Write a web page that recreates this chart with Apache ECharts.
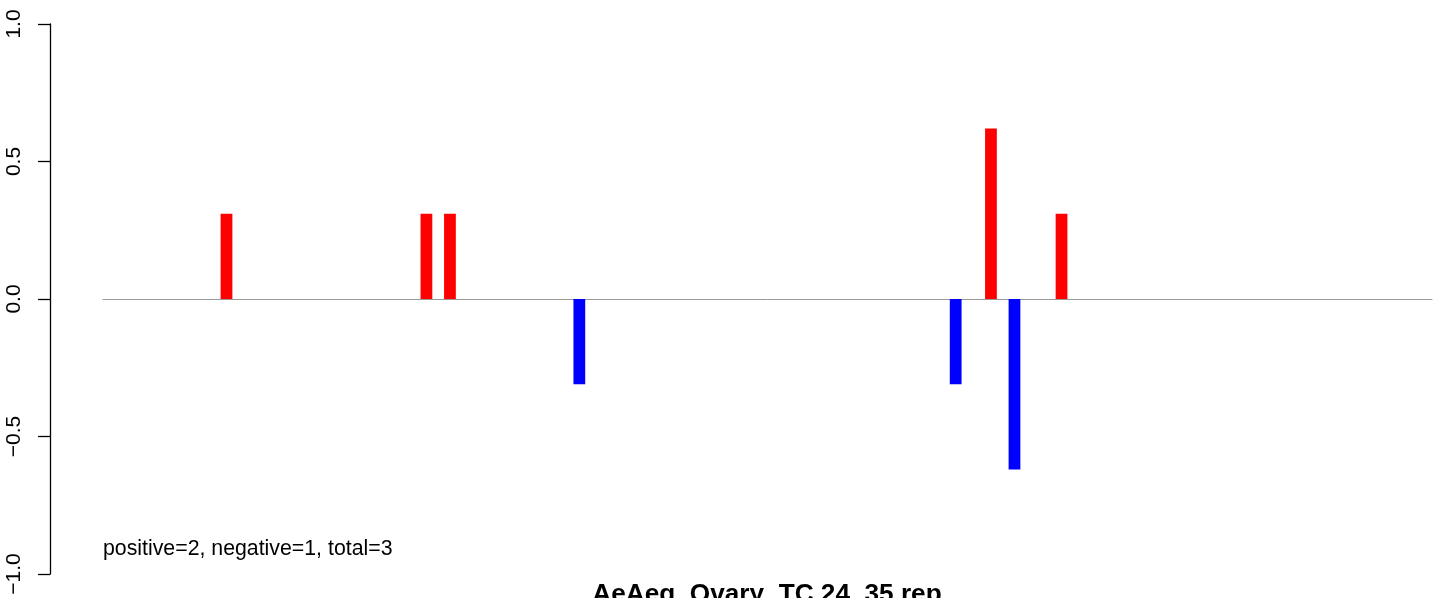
<!DOCTYPE html>
<html>
<head>
<meta charset="utf-8">
<script src="https://cdn.jsdelivr.net/npm/echarts@6/dist/echarts.min.js"></script>
<style>
html,body{margin:0;padding:0;background:#fff;}
#c{width:1444px;height:598px;}
</style>
</head>
<body>
<div id="c"></div>
<script>
// ---- data ----
var slotCount = 113;                       // number of bar slots along x
var barSlots  = [10, 27, 29, 40, 72, 75, 77, 81];
var barValues = [0.31, 0.31, 0.31, -0.31, -0.31, 0.62, -0.62, 0.31];
var yTicks = [-1, -0.5, 0, 0.5, 1];
var yTickLabels = ['\u22121.0', '\u22120.5', '0.0', '0.5', '1.0'];
var titleText = 'AeAeg_Ovary_TC.24_35.rep';
var noteText = 'positive=2, negative=1, total=3';

// ---- build ----
var categories = [];
var values = [];
for (var i = 0; i < slotCount; i++) { categories.push(String(i + 1)); values.push(null); }
for (var j = 0; j < barSlots.length; j++) { values[barSlots[j]] = barValues[j]; }

var chart = echarts.init(document.getElementById('c'), null, {renderer: 'canvas'});
var FONT = '"Liberation Sans", Arial, Helvetica, sans-serif';
chart.setOption({
  animation: false,
  backgroundColor: '#ffffff',
  grid: {left: 103, right: 12, top: 24, bottom: 24, containLabel: false},
  xAxis: {
    type: 'category',
    data: categories,
    axisLine: {show: true, onZero: true, lineStyle: {color: '#999999', width: 1}},
    axisTick: {show: false},
    axisLabel: {show: false},
    splitLine: {show: false}
  },
  yAxis: {
    type: 'value',
    min: -1, max: 1, interval: 0.5,
    position: 'left',
    offset: 53,
    axisLine: {show: true, lineStyle: {color: '#000000', width: 1.3}},
    axisTick: {show: true, length: 12, lineStyle: {color: '#000000', width: 1.3}},
    splitLine: {show: false},
    axisLabel: {
      rotate: 90,
      margin: 25,
      fontSize: 21,
      fontFamily: FONT,
      color: '#000000',
      formatter: function (v) {
        var k = yTicks.indexOf(Math.round(v * 2) / 2);
        return k >= 0 ? yTickLabels[k] : '';
      }
    }
  },
  series: [{
    type: 'bar',
    data: values,
    barCategoryGap: '0%',
    itemStyle: {
      color: function (p) { return p.value >= 0 ? '#FF0000' : '#0000FF'; }
    }
  }],
  graphic: [
    {type: 'text', left: 103, top: 539,
     style: {text: noteText, font: '21.3px ' + FONT, fill: '#000'}},
    {type: 'text', x: 767, y: 595,
     style: {text: titleText, font: 'bold 26.2px ' + FONT, fill: '#000', textAlign: 'center', textVerticalAlign: 'middle'}}
  ]
});
</script>
</body>
</html>
